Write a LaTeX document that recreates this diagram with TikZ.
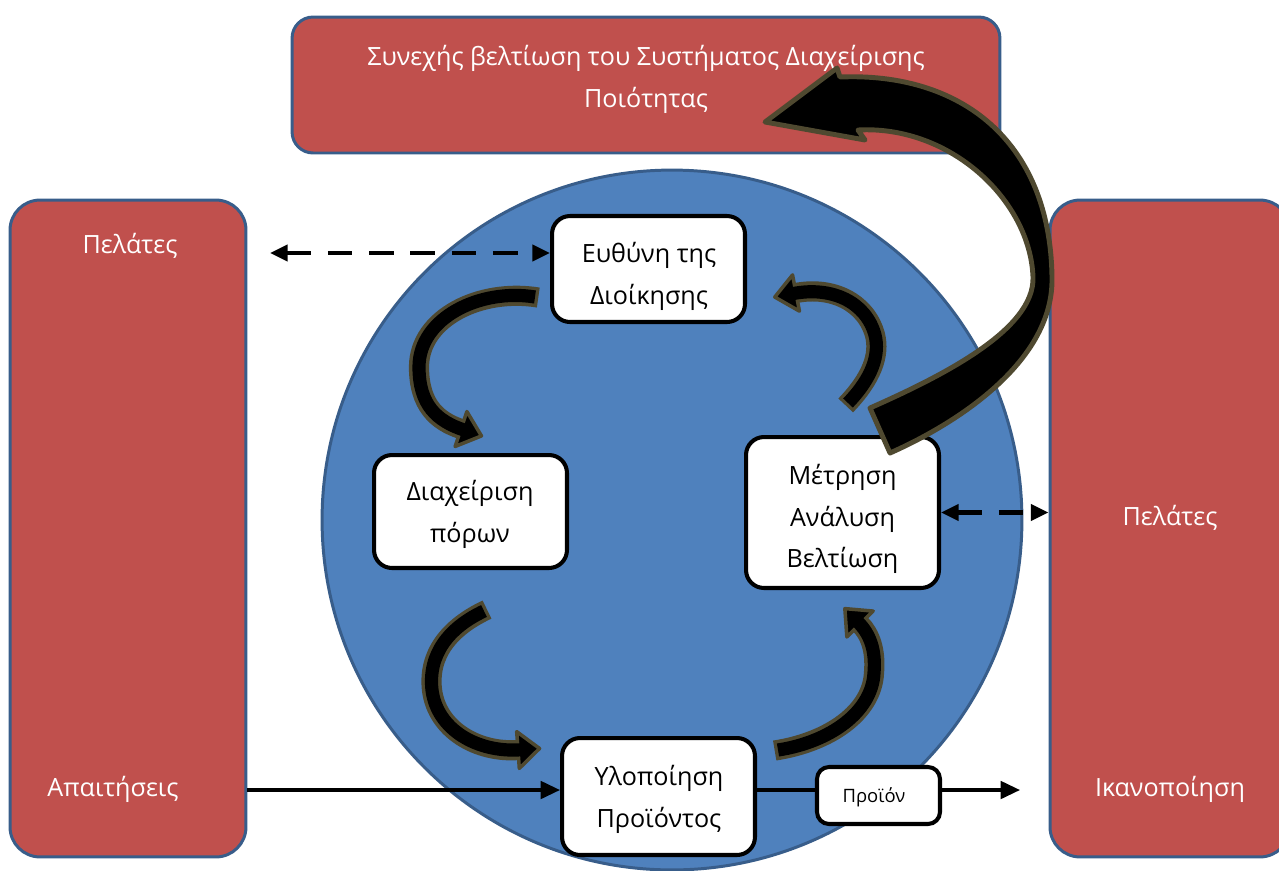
\documentclass[tikz,border=0pt]{standalone}
\usepackage{fontspec}
\setmainfont{Open Sans}
\usetikzlibrary{arrows.meta,decorations.markings}

\definecolor{boxred}{HTML}{C0504D}
\definecolor{edgeblue}{HTML}{385D8A}
\definecolor{discblue}{HTML}{4F81BD}
\definecolor{arrowrim}{HTML}{4F4930}

\newcommand\diagfont{\fontsize{14.3pt}{23.8pt}\selectfont}

% curved band arrow: rim stroke, head, black core
\newcommand\bentarrow[1]{%
  \draw[bandedge, shorten <=-1.9pt] #1;
  \path[decorate, decoration={markings, mark=at position -0.2pt with {%
      \draw[headtip] (0.2pt,10.5pt) -- (12.5pt,0) -- (0.2pt,-10.5pt) -- cycle;}}] #1;
  \draw[bandcore, shorten >=-1.8pt] #1;
}

\begin{document}
\begin{tikzpicture}[x=0.02cm, y=-0.02cm,
  panel/.style={draw=edgeblue, line width=1.7pt, fill=boxred, inner sep=0pt},
  paneltext/.style={text=white, font=\diagfont, align=center, inner sep=0pt},
  stage/.style={draw=black, fill=white, line width=2.3pt, rounded corners=0.36cm,
    minimum width=3.86cm, inner sep=0pt},
  stagetext/.style={font=\diagfont, align=center, inner sep=0pt},
  dasharrow/.style={line width=2.4pt, dash pattern=on 14pt off 9.5pt,
    {Triangle[length=10pt,width=9pt]}-{Triangle[length=10pt,width=9pt]}},
  flow/.style={line width=1.8pt, -{Triangle[length=11pt,width=10pt]}},
  flowline/.style={line width=1.8pt},
  bandedge/.style={draw=arrowrim, line width=11.5pt, line cap=butt},
  bandcore/.style={draw=black, line width=7.5pt, line cap=butt},
  headtip/.style={draw=arrowrim, fill=black, line width=2pt, line join=round},
  bigcurve/.style={draw=arrowrim, fill=black, line width=2.8pt, line join=round}
]
\useasboundingbox (0,0) rectangle (1279,870);
\clip (0,0) rectangle (1279,870);

% side and top panels
\node[panel, rounded corners=0.6cm, minimum width=4.72cm, minimum height=13.14cm] (lpanel) at (128,528.5) {};
\node[panel, rounded corners=0.6cm, minimum width=4.8cm, minimum height=13.14cm] (rpanel) at (1170,528.5) {};
\node[panel, rounded corners=0.42cm, minimum width=14.16cm, minimum height=2.72cm] (goal) at (646,85) {};

\node[paneltext] (goaltext) at (646,79) {Συνεχής βελτίωση του Συστήματος Διαχείρισης\\Ποιότητας};
\node[paneltext] (lcust) at (130,246) {Πελάτες};
\node[paneltext] (lreq) at (113,789) {Απαιτήσεις};
\node[paneltext] (rcust) at (1170,518) {Πελάτες};
\node[paneltext] (rsat) at (1170,789) {Ικανοποίηση};

% central disc
\node[circle, draw=edgeblue, fill=discblue, line width=1.7pt, minimum size=14cm, inner sep=0pt] (disc) at (672,520) {};

% process stages
\node[stage, minimum height=2.12cm] (resp) at (648.5,269) {};
\node[stage, minimum height=2.26cm] (res) at (470.5,511.5) {};
\node[stage, minimum height=3.02cm] (meas) at (842.5,512.5) {};
\node[stage, minimum height=2.34cm] (impl) at (658.5,796.5) {};
\node[stage, minimum width=2.46cm, minimum height=1.14cm, rounded corners=0.24cm] (prod) at (878.5,795.5) {};

\node[stagetext] (resptext) at (649,276) {Ευθύνη της\\Διοίκησης};
\node[stagetext] (restext) at (470,514) {Διαχείριση\\πόρων};
\node[stagetext] (meastext) at (842.5,519) {Μέτρηση\\Ανάλυση\\Βελτίωση};
\node[stagetext] (impltext) at (659,799) {Υλοποίηση\\Προϊόντος};
\node[stagetext, font=\fontsize{10.5pt}{13pt}\selectfont] (prodtext) at (874,797) {Προϊόν};

% customer links
\coordinate (custend) at (270,253);
\draw[dasharrow] (custend) -- (custend -| resp.west);
\draw[dasharrow] (meas.east) -- (meas.east -| rpanel.west);

% product flow
\coordinate (flowy) at (0,790);
\coordinate (flowend) at (1020,790);
\draw[flow] (flowy -| lpanel.east) -- (flowy -| impl.west);
\draw[flowline] (flowy -| impl.east) -- (flowy -| prod.west);
\draw[flow] (flowy -| prod.east) -- (flowend);

% cycle arrows between the stages
\bentarrow{(535,297) .. controls (480,288) and (419,318) .. (419,367) .. controls (419,405) and (437,421) .. (461,429)}
\bentarrow{(484,611) .. controls (448,628) and (428,655) .. (432,690) .. controls (437,730) and (478,753) .. (518,750)}
\bentarrow{(778,750) .. controls (830,742) and (872,712) .. (874,673) .. controls (876,650) and (870,634) .. (860,624)}
\bentarrow{(848,403) .. controls (872,378) and (880,355) .. (875,335) .. controls (866,302) and (832,286) .. (796,293)}

% improvement loop arrow
\draw[bigcurve] (890,453) .. controls (960,422) and (1054,360) .. (1052,277)
  .. controls (1050,140) and (960,72) .. (840,77) -- (837,68) -- (765,122) -- (865,140) -- (858,130)
  .. controls (950,125) and (1030,200) .. (1033,277)
  .. controls (1035,330) and (940,377) .. (870,408) -- cycle;
\end{tikzpicture}
\end{document}
